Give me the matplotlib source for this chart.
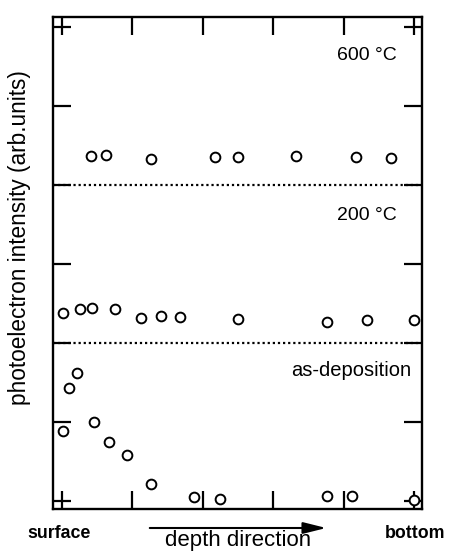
import matplotlib
matplotlib.use("Agg")
import matplotlib.pyplot as plt

plt.rcParams['font.family'] = ['Liberation Sans', 'DejaVu Sans']

# depth position (arb.) and intensity (arb.) for each sample
x_600 = [0.41, 0.63, 1.26, 2.17, 2.50, 3.33, 4.18, 4.67]
y_600 = [4.37, 4.38, 4.34, 4.36, 4.36, 4.37, 4.36, 4.35]

x_200 = [0.01, 0.26, 0.42, 0.75, 1.12, 1.40, 1.67, 2.50, 3.76, 4.33, 5.00]
y_200 = [2.38, 2.43, 2.44, 2.43, 2.32, 2.35, 2.33, 2.31, 2.27, 2.29, 2.29]

x_dep = [0.01, 0.10, 0.21, 0.45, 0.67, 0.92, 1.26, 1.88, 2.24, 3.76, 4.12, 5.00]
y_dep = [0.89, 1.43, 1.62, 1.00, 0.75, 0.58, 0.22, 0.05, 0.02, 0.06, 0.06, 0.01]

separators = [2, 4]
xticks = [0, 1, 2, 3, 4, 5]
yticks = [0, 1, 2, 3, 4, 5, 6]
labels = ["600 °C", "200 °C", "as-deposition"]

W, H = 449, 552
fig = plt.figure(figsize=(W / 100, H / 100), dpi=100)
ax = fig.add_axes([53 / W, 1 - 509 / H, 369 / W, 492 / H])

mk = dict(linestyle='none', marker='o', markersize=7, markerfacecolor='white',
          markeredgecolor='black', markeredgewidth=1.4, clip_on=False, zorder=3)
ax.plot(x_600, y_600, **mk)
ax.plot(x_200, y_200, **mk)
ax.plot(x_dep, y_dep, **mk)

for s in separators:
    ax.axhline(s, color='black', linestyle=(0, (1, 1.3)), linewidth=1.6, zorder=2)

ax.set_xlim(-0.128, 5.114)
ax.set_ylim(-0.101, 6.133)
ax.set_xticks(xticks)
ax.set_yticks(yticks)
ax.tick_params(direction='in', length=13, width=1.6, top=True, right=True,
               labelbottom=False, labelleft=False)
for sp in ax.spines.values():
    sp.set_linewidth(1.7)

ax.text(397 / W, 1 - 56 / H, labels[0], transform=fig.transFigure,
        ha='right', va='center', fontsize=14)
ax.text(397 / W, 1 - 216 / H, labels[1], transform=fig.transFigure,
        ha='right', va='center', fontsize=14)
ax.text(411 / W, 1 - 370 / H, labels[2], transform=fig.transFigure,
        ha='right', va='center', fontsize=14.5)

fig.text(20 / W, 1 - 238 / H, "photoelectron intensity (arb.units)",
         rotation=90, ha='center', va='center', fontsize=16.3)

fig.text(59 / W, 1 - 534 / H, "surface", ha='center', va='center',
         fontsize=12.8, fontweight='bold')
fig.text(415 / W, 1 - 534 / H, "bottom", ha='center', va='center',
         fontsize=12.8, fontweight='bold')
fig.text(238 / W, 1 / H, "depth direction", ha='center', va='bottom',
         fontsize=16)
fig.patches.append(matplotlib.patches.FancyArrowPatch(
    (147 / W, 1 - 528 / H), (329 / W, 1 - 528 / H), transform=fig.transFigure,
    arrowstyle='-|>,head_length=1.4,head_width=0.35', mutation_scale=10,
    linewidth=1.5, color='black'))

fig.savefig("out.png", dpi=100)
